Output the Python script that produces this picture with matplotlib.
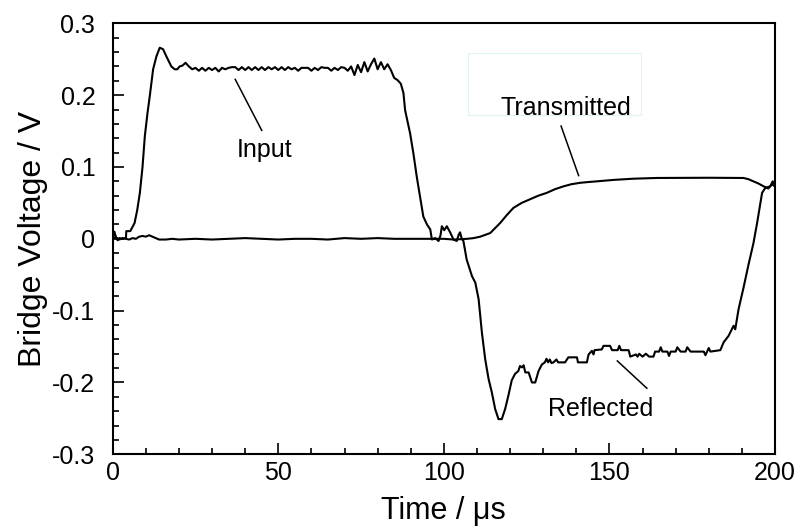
import matplotlib
matplotlib.use("Agg")
import matplotlib.pyplot as plt
from matplotlib.patches import Rectangle

plt.rcParams["font.family"] = ["Liberation Sans", "DejaVu Sans"]

# --- input + reflected pulse (same gauge) ---
t_inref = [0, 0.5, 1, 1.5, 2, 3, 4, 4.1, 5.3, 6.6, 7.4, 8.2, 9, 9.7, 10.5, 11.2, 12.2,
           13.2, 14.2, 15.2, 16.2, 17.7, 18.7, 19.5, 20.2,
           21, 22, 23, 24, 25, 26, 27, 28, 29, 30, 31, 32, 33, 34, 35, 36, 37, 38, 39, 40,
           41, 42, 43, 44, 45, 46, 47, 48, 49, 50, 51, 52, 53, 54, 55, 56, 57, 58, 59, 60,
           61, 62, 63, 64, 65, 66, 67, 68, 69, 70, 71, 72, 73, 74, 75, 76, 77, 78, 79, 80,
           81, 82, 83, 84, 85, 86, 87, 87.8, 88.3, 89.8, 90.8, 91.8, 92.8, 93.8, 94.9, 95.9,
           96.4, 97.4, 98.4, 99, 99.4, 100.1, 100.9, 101.9, 102.9, 103.9, 104.5, 104.9,
           105.4, 105.9,
           106.9, 108.5, 109.5, 110.5, 111.5, 112.5, 113.5, 114.5, 115.5, 116.5, 117.5,
           118.5, 119.5, 120.5, 121.5, 122.5, 123, 123.6, 124.1, 124.6, 125.6, 126.6, 127.6,
           128.6, 129.6, 130.5, 131, 131.5, 132, 132.5, 133.1, 134, 134.5, 136.6, 137.6,
           140.2, 140.5, 143.2, 143.7, 144.7, 145.2, 145.5, 147.7, 148.2, 150.2, 150.8,
           152.5, 153, 153.5, 155.8, 156.3, 158, 158.5, 159, 160, 161, 162, 163.3, 163.8,
           165, 165.5, 166, 167.5, 168, 168.5, 170, 170.5, 171.5, 173, 173.5, 174.5, 178.5,
           179, 180, 180.5, 183.5, 184.5, 186, 187.5, 188, 189, 190.5, 192, 193.5, 194.6,
           195.6, 196.1, 197.1, 198.6, 199.3, 200]
v_inref = [0.000, 0.010, 0.002, -0.002, 0.001, 0.000, 0.001, 0.0107, 0.0107, 0.022, 0.040,
           0.064, 0.100, 0.143, 0.175, 0.199, 0.236,
           0.254, 0.266, 0.264, 0.254, 0.240, 0.236, 0.236, 0.240,
           0.241, 0.245, 0.240, 0.236, 0.238, 0.234, 0.238, 0.234, 0.238, 0.235, 0.238,
           0.233, 0.238, 0.236, 0.238, 0.239, 0.239, 0.235, 0.239, 0.235,
           0.239, 0.235, 0.239, 0.235, 0.239, 0.235, 0.239, 0.236, 0.239, 0.235, 0.239,
           0.235, 0.239, 0.236, 0.238, 0.234, 0.238, 0.238, 0.238, 0.234,
           0.238, 0.235, 0.239, 0.238, 0.238, 0.234, 0.238, 0.235, 0.239, 0.238, 0.234,
           0.240, 0.228, 0.242, 0.232, 0.246, 0.233, 0.243, 0.251, 0.236,
           0.246, 0.236, 0.243, 0.235, 0.224, 0.221, 0.216, 0.203, 0.179, 0.147, 0.119,
           0.087, 0.059, 0.031, 0.020, 0.013,
           -0.001, 0.001, -0.003, 0.005, 0.0175, 0.012, 0.0175, 0.009, -0.001, -0.003,
           0.006, 0.009, 0.000, -0.003,
           -0.029, -0.052, -0.061, -0.084, -0.131, -0.168, -0.195, -0.214, -0.237, -0.251,
           -0.251, -0.237, -0.218, -0.197, -0.188, -0.184, -0.177, -0.179, -0.176, -0.186,
           -0.186, -0.200, -0.200, -0.184, -0.175, -0.172, -0.167, -0.172, -0.168, -0.173,
           -0.172, -0.168, -0.172, -0.172, -0.165,
           -0.165, -0.172, -0.172, -0.161, -0.156, -0.161, -0.155, -0.154, -0.149, -0.149,
           -0.155, -0.155, -0.149, -0.155, -0.155, -0.164, -0.161, -0.164, -0.160, -0.164,
           -0.160, -0.164, -0.164, -0.157,
           -0.157, -0.151, -0.157, -0.157, -0.163, -0.157, -0.157, -0.151, -0.157, -0.157,
           -0.151, -0.157, -0.157, -0.162, -0.152, -0.157, -0.155, -0.144, -0.135, -0.121,
           -0.126, -0.098, -0.068, -0.036, -0.006, 0.022, 0.050, 0.064, 0.071, 0.073,
           0.080, 0.075]

# --- transmitted pulse ---
t_trans = [0, 1, 2, 3, 4, 5, 6, 7, 8, 9, 10, 11, 12, 13, 14, 16, 18, 20, 25, 30, 35, 40,
           45, 50, 55, 60, 65, 70, 75, 80, 85, 90, 95, 100, 103, 107, 109, 111, 114, 117,
           119, 121, 123.5, 126, 128.5, 131.1, 133.5, 136.1, 138.5, 141.2, 143.5, 146.2,
           151.2, 157.3, 164.3, 180, 190.5, 192, 193.5, 195, 196.6, 198, 199, 200]
v_trans = [0.000, 0.002, -0.001, 0.001, 0.000, -0.001, 0.001, 0.000, 0.003, 0.004, 0.003,
           0.005, 0.003, 0.001, -0.001, -0.001, 0.000, -0.001, 0.000, -0.001, 0.000, 0.001,
           0.000, -0.001, 0.000, 0.000, -0.001, 0.001, 0.000, 0.001, 0.000, 0.000, 0.000,
           0.000, -0.001, 0.000, 0.001, 0.003, 0.008, 0.022,
           0.033, 0.043, 0.050, 0.055, 0.060, 0.064, 0.069, 0.073, 0.076, 0.078, 0.079,
           0.080, 0.082, 0.0837, 0.0847, 0.085, 0.0847, 0.083, 0.080, 0.077, 0.073, 0.070,
           0.076, 0.073]

xticks = [0, 50, 100, 150, 200]
yticks = [-0.3, -0.2, -0.1, 0, 0.1, 0.2, 0.3]
ytick_labels = ["-0.3", "-0.2", "-0.1", "0", "0.1", "0.2", "0.3"]

fig = plt.figure(figsize=(7.96, 5.30), dpi=100)
ax = fig.add_axes([0.1416, 0.1428, 0.8320, 0.8132])

ax.plot(t_inref, v_inref, color="black", lw=1.5)
ax.plot(t_trans, v_trans, color="black", lw=1.5)

ax.set_xlim(0, 200)
ax.set_ylim(-0.3, 0.3)
ax.set_xticks(xticks)
ax.set_xticks(range(0, 201, 10), minor=True)
ax.set_yticks(yticks)
ax.set_yticklabels(ytick_labels)
ax.set_yticks([i * 0.02 - 0.3 for i in range(31)], minor=True)

ax.tick_params(which="major", direction="in", length=8, width=1.2, labelsize=18)
ax.tick_params(which="minor", direction="in", length=4.5, width=1.2)
ax.tick_params(axis="x", which="major", pad=5)
ax.tick_params(axis="y", which="major", pad=12.5)
for s in ax.spines.values():
    s.set_linewidth(1.5)

ax.set_xlabel("Time / μs", fontsize=22, labelpad=8)
ax.set_ylabel("Bridge Voltage / V", fontsize=23, labelpad=3)

# faint box behind the Transmitted label
ax.add_patch(Rectangle((107.3, 0.173), 52.3, 0.086, fill=False, ec="#dff3f3", lw=0.8))

# labels with leader lines
ax.text(46, 0.124, "Input", fontsize=18, ha="center", va="center")
ax.plot([37, 45], [0.222, 0.151], color="black", lw=1.1)
ax.text(136.7, 0.182, "Transmitted", fontsize=18, ha="center", va="center")
ax.plot([135.4, 140.7], [0.157, 0.088], color="black", lw=1.1)
ax.text(147.2, -0.237, "Reflected", fontsize=18, ha="center", va="center")
ax.plot([152.4, 161.3], [-0.170, -0.208], color="black", lw=1.1)

fig.savefig("out.png", dpi=100)
